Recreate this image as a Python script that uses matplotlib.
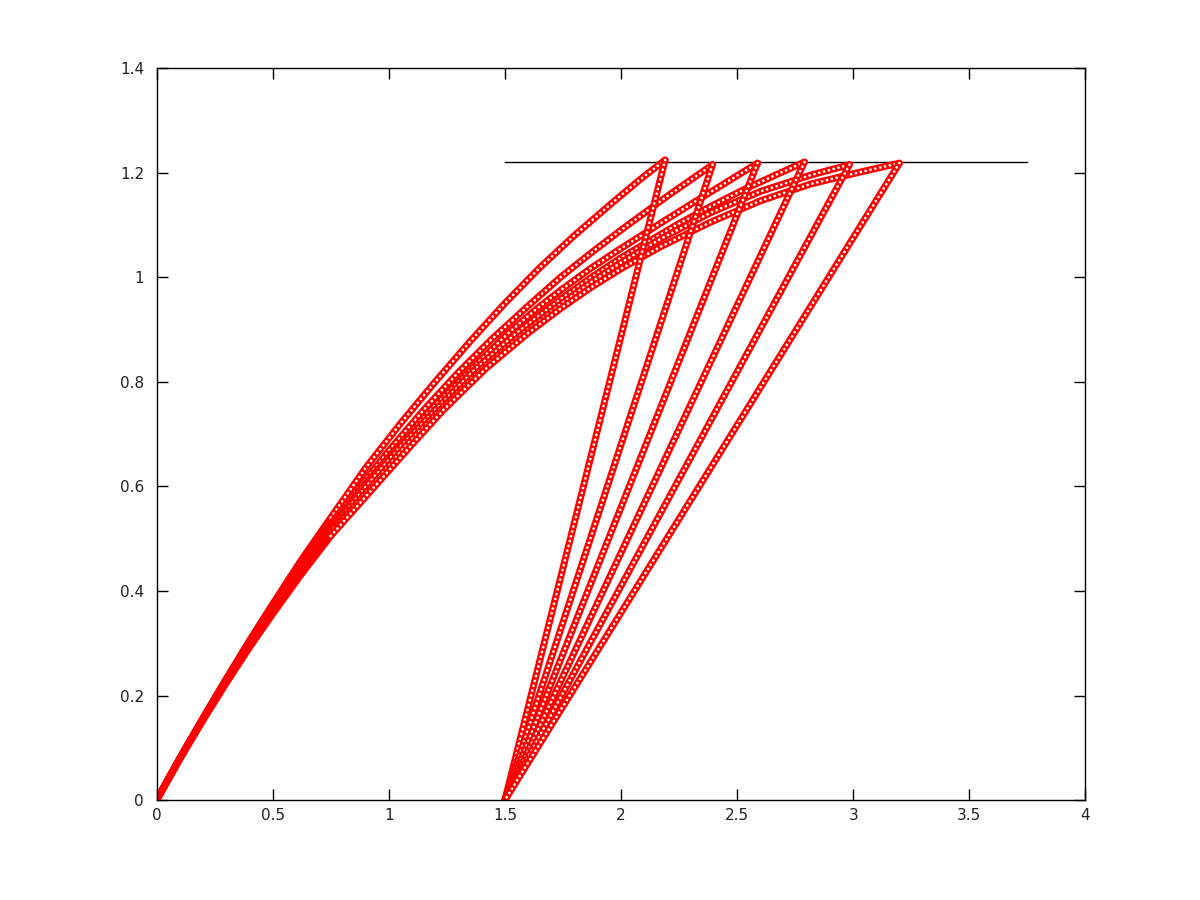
import numpy as np
import matplotlib.pyplot as plt

# rising curves (x, y)
c1_x = [0, 0.1, 0.2, 0.3, 0.4, 0.5, 0.62, 0.75, 0.9, 1.05, 1.2, 1.35, 1.5, 1.65, 1.8, 1.97, 2.08, 2.19]
c1_y = [0, 0.08, 0.157, 0.232, 0.305, 0.375, 0.457, 0.54, 0.635, 0.72, 0.8, 0.877, 0.95, 1.018, 1.08, 1.145, 1.186, 1.224]

c2_x = [0, 0.1, 0.2, 0.3, 0.4, 0.5, 0.62, 0.75, 0.87, 1.0, 1.15, 1.3, 1.44, 1.6, 1.74, 1.87, 2.0, 2.2, 2.394]
c2_y = [0, 0.08, 0.157, 0.231, 0.302, 0.37, 0.45, 0.528, 0.597, 0.668, 0.746, 0.818, 0.88, 0.945, 1.0, 1.046, 1.09, 1.155, 1.215]

c3_x = [0, 0.1, 0.2, 0.3, 0.4, 0.5, 0.62, 0.75, 0.89, 1.03, 1.18, 1.35, 1.52, 1.63, 1.74, 1.87, 2.0, 2.17, 2.31, 2.46, 2.588]
c3_y = [0, 0.08, 0.156, 0.23, 0.3, 0.367, 0.445, 0.522, 0.6, 0.672, 0.746, 0.822, 0.895, 0.937, 0.975, 1.017, 1.055, 1.103, 1.142, 1.183, 1.218]

c4_x = [0, 0.1, 0.2, 0.3, 0.4, 0.5, 0.62, 0.75, 0.91, 1.05, 1.2, 1.37, 1.55, 1.74, 1.87, 2.0, 2.24, 2.385, 2.527, 2.674, 2.79]
c4_y = [0, 0.08, 0.155, 0.228, 0.297, 0.363, 0.44, 0.517, 0.604, 0.676, 0.746, 0.823, 0.893, 0.958, 0.999, 1.037, 1.1, 1.135, 1.167, 1.197, 1.22]

c5_x = [0, 0.1, 0.2, 0.3, 0.4, 0.5, 0.62, 0.75, 0.925, 1.07, 1.22, 1.4, 1.58, 1.74, 1.87, 2.0, 2.17, 2.385, 2.601, 2.816, 2.984]
c5_y = [0, 0.079, 0.154, 0.226, 0.295, 0.36, 0.436, 0.512, 0.6, 0.676, 0.746, 0.825, 0.893, 0.948, 0.99, 1.028, 1.073, 1.123, 1.164, 1.195, 1.215]

c6_x = [0, 0.1, 0.2, 0.3, 0.4, 0.5, 0.62, 0.75, 0.94, 1.09, 1.235, 1.42, 1.6, 1.74, 1.87, 2.0, 2.17, 2.385, 2.601, 2.816, 3.031, 3.199]
c6_y = [0, 0.079, 0.153, 0.224, 0.292, 0.356, 0.43, 0.505, 0.6, 0.675, 0.746, 0.826, 0.893, 0.94, 0.98, 1.016, 1.058, 1.105, 1.146, 1.178, 1.201, 1.218]

curves = [(c1_x, c1_y), (c2_x, c2_y), (c3_x, c3_y),
          (c4_x, c4_y), (c5_x, c5_y), (c6_x, c6_y)]

# every tip drops straight back to this point
drop_x = 1.5
drop_y = 0.0

# horizontal bar
bar_x = [1.5, 3.75]
bar_y = [1.22, 1.22]

xticks = [0, 0.5, 1, 1.5, 2, 2.5, 3, 3.5, 4]
xlabels = ["0", "0.5", "1", "1.5", "2", "2.5", "3", "3.5", "4"]
yticks = [0, 0.2, 0.4, 0.6, 0.8, 1.0, 1.2, 1.4]
ylabels = ["0", "0.2", "0.4", "0.6", "0.8", "1", "1.2", "1.4"]

fig = plt.figure(figsize=(12, 9), dpi=100)
ax = fig.add_axes([0.1305, 0.111, 0.774, 0.8135])

ax.plot(bar_x, bar_y, color='black', lw=1.0, zorder=1)

# chains of open circles: a red band with white holes punched in it
band_lw = 5.0
hole_lw = 2.0
hole_style = (0, (0.01, 1.78))


def chain(sx, sy, start, z):
    ax.plot(sx, sy, color='red', lw=band_lw, solid_capstyle='round',
            solid_joinstyle='round', zorder=z)
    ax.plot(sx[start:], sy[start:], color='white', lw=hole_lw,
            linestyle=hole_style, dash_capstyle='round', zorder=z + 0.5)


z = 2
for cx, cy in curves:
    chain(np.array(cx), np.array(cy), 7, z)
    z += 1
for cx, cy in curves:
    chain(np.array([cx[-1], drop_x]), np.array([cy[-1], drop_y]), 0, z)
    z += 1

ax.set_xlim(0, 4)
ax.set_ylim(0, 1.4)
ax.set_xticks(xticks)
ax.set_xticklabels(xlabels)
ax.set_yticks(yticks)
ax.set_yticklabels(ylabels)
ax.tick_params(direction='in', length=8, width=1, top=True, right=True,
               labelsize=11, labelcolor='#222222')
ax.tick_params(axis='x', pad=6)
ax.tick_params(axis='y', pad=9)
for s in ax.spines.values():
    s.set_linewidth(1.0)
    s.set_zorder(50)

fig.savefig('out.png', dpi=100)
